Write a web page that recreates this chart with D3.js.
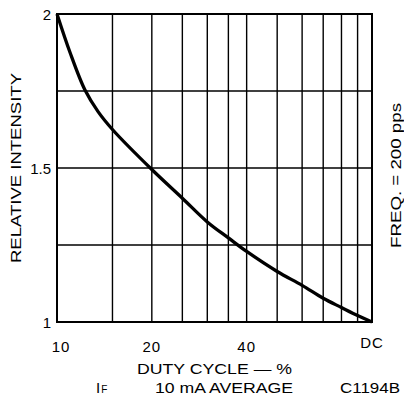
<!DOCTYPE html>
<html>
<head>
<meta charset="utf-8">
<script src="https://cdn.jsdelivr.net/npm/d3@7"></script>
<style>
  html, body { margin: 0; padding: 0; background: #fff; }
  svg { display: block; font-family: "Liberation Sans", Arial, sans-serif; }
</style>
</head>
<body>
<svg id="chart" width="404" height="401"></svg>
<script>
// duty cycle grid lines (log scale, 100 = DC)
const xGrid = [10, 15, 20, 25, 30, 35, 40, 50, 60, 70, 80, 90, 100];
const xLabels = [[10, "10"], [20, "20"], [40, "40"], [100, "DC"]];
const yGrid = [1, 1.25, 1.5, 1.75, 2];
const yLabels = [[1, "1"], [1.5, "1.5"], [2, "2"]];

// curve
const duty = [10, 11, 12.27, 13.5, 15, 20, 25, 30, 35, 40, 50, 60, 70, 80, 90, 100];
const intensity = [2.0, 1.875, 1.753, 1.683, 1.625, 1.495, 1.402, 1.325, 1.273, 1.229, 1.164, 1.119, 1.077, 1.047, 1.021, 1.0];

const svg = d3.select('#chart');
const plotL = 57, plotR = 372, plotT = 14, plotB = 322;

const x = d3.scaleLog().domain([10, 100]).range([plotL, plotR]);
const y = d3.scaleLinear().domain([1, 2]).range([plotB, plotT]);

// grid
svg.append('g').selectAll('line').data(xGrid).join('line')
  .attr('x1', d => x(d)).attr('x2', d => x(d))
  .attr('y1', plotT).attr('y2', plotB)
  .attr('stroke', '#000').attr('stroke-width', 1.4);

svg.append('g').selectAll('line').data(yGrid).join('line')
  .attr('x1', plotL).attr('x2', plotR)
  .attr('y1', d => y(d)).attr('y2', d => y(d))
  .attr('stroke', '#000').attr('stroke-width', 1.4);

// frame
svg.append('rect')
  .attr('x', plotL).attr('y', plotT)
  .attr('width', plotR - plotL).attr('height', plotB - plotT)
  .attr('fill', 'none').attr('stroke', '#000').attr('stroke-width', 2);

// curve
const line = d3.line()
  .x(d => x(d[0])).y(d => y(d[1]))
  .curve(d3.curveCatmullRom.alpha(0.5));

svg.append('path')
  .datum(duty.map((d, i) => [d, intensity[i]]))
  .attr('d', line)
  .attr('fill', 'none').attr('stroke', '#000').attr('stroke-width', 3.3)
  .attr('stroke-linejoin', 'round');

// tick labels
svg.append('g').selectAll('text').data(yLabels).join('text')
  .attr('x', plotL - 6).attr('y', d => y(d[0]) + 5.5)
  .attr('text-anchor', 'end').attr('font-size', 15)
  .text(d => d[1]);

svg.append('g').selectAll('text').data(xLabels).join('text')
  .attr('x', d => x(d[0]) + (d[0] === 10 ? 4 : 0)).attr('y', d => d[0] === 100 ? 348 : 352)
  .attr('text-anchor', 'middle').attr('font-size', 15)
  .attr('letter-spacing', 1)
  .text(d => d[1]);

// axis titles
svg.append('text')
  .attr('transform', 'translate(21,168) rotate(-90)')
  .attr('text-anchor', 'middle').attr('font-size', 15)
  .attr('textLength', 190).attr('lengthAdjust', 'spacingAndGlyphs')
  .text('RELATIVE INTENSITY');

svg.append('text')
  .attr('transform', 'translate(401,175.5) rotate(-90)')
  .attr('text-anchor', 'middle').attr('font-size', 14)
  .attr('textLength', 145).attr('lengthAdjust', 'spacingAndGlyphs')
  .text('FREQ. = 200 pps');

svg.append('text')
  .attr('x', 214.5).attr('y', 374)
  .attr('text-anchor', 'middle').attr('font-size', 15)
  .attr('textLength', 155).attr('lengthAdjust', 'spacingAndGlyphs')
  .text('DUTY CYCLE \u2014 %');

const sub = svg.append('text')
  .attr('x', 96).attr('y', 393).attr('font-size', 15);
sub.append('tspan').text('I');
sub.append('tspan').attr('font-size', 10).attr('dx', 1).text('F');

svg.append('text')
  .attr('x', 224).attr('y', 393)
  .attr('text-anchor', 'middle').attr('font-size', 15)
  .attr('textLength', 138).attr('lengthAdjust', 'spacingAndGlyphs')
  .text('10 mA AVERAGE');

svg.append('text')
  .attr('x', 370).attr('y', 393)
  .attr('text-anchor', 'middle').attr('font-size', 15)
  .attr('textLength', 60).attr('lengthAdjust', 'spacingAndGlyphs')
  .text('C1194B');
</script>
</body>
</html>
